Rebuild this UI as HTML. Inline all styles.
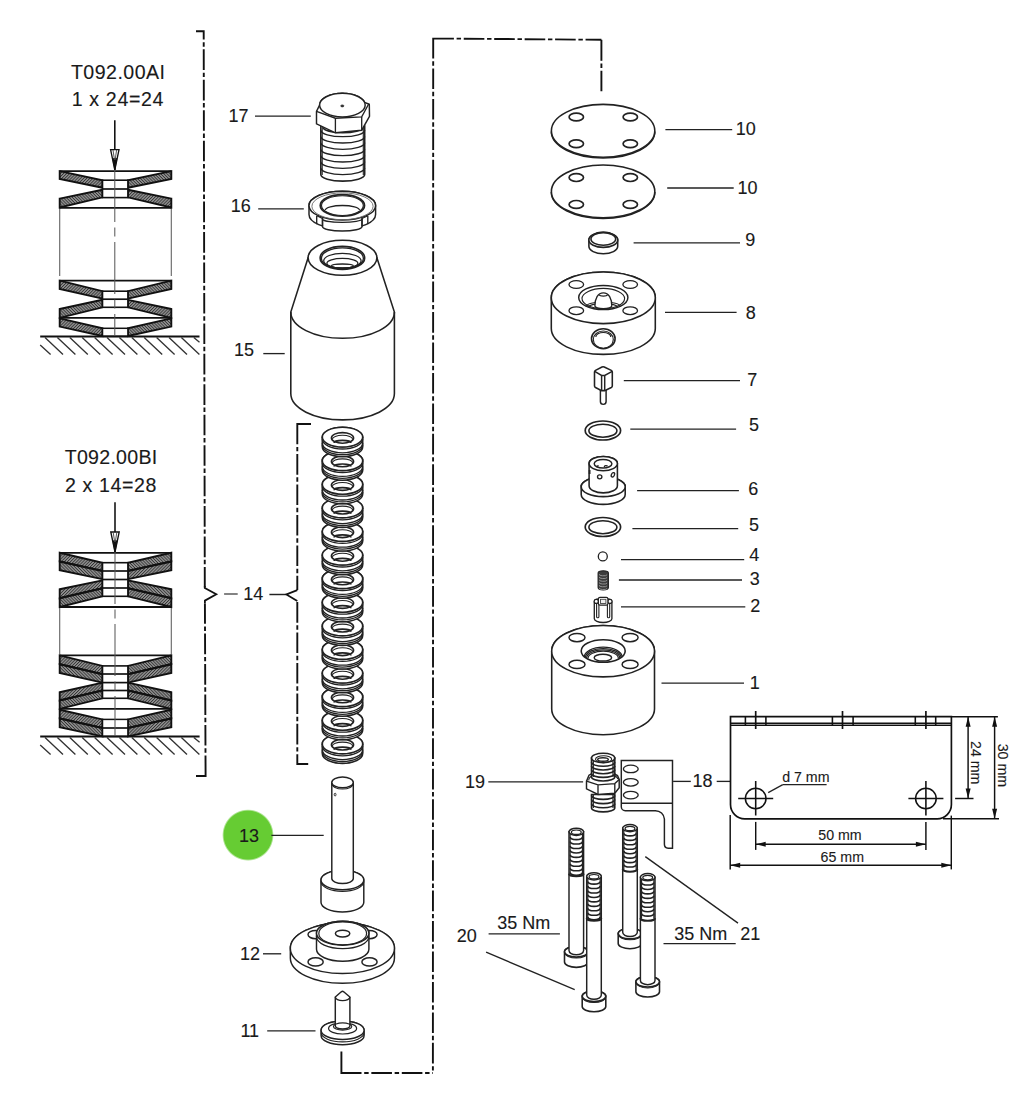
<!DOCTYPE html>
<html><head><meta charset="utf-8"><title>Exploded view</title>
<style>
html,body{margin:0;padding:0;background:#fff;}
body{width:1027px;height:1102px;overflow:hidden;}
svg{display:block;font-family:"Liberation Sans",sans-serif;}
svg text{fill:#1a1a1a;stroke:#1a1a1a;stroke-width:0.12px;}
</style></head>
<body>
<svg width="1027" height="1102" viewBox="0 0 1027 1102">
<rect width="1027" height="1102" fill="#fff"/>
<defs><pattern id="hat" patternUnits="userSpaceOnUse" width="2.2" height="2.2" patternTransform="rotate(-45)"><rect width="2.2" height="2.2" fill="#929292"/><rect width="2.2" height="0.85" fill="#333"/></pattern><pattern id="hatb" patternUnits="userSpaceOnUse" width="2.2" height="2.2" patternTransform="rotate(45)"><rect width="2.2" height="2.2" fill="#929292"/><rect width="2.2" height="0.85" fill="#333"/></pattern></defs>
<text x="118.2" y="79.4" font-size="19.6" text-anchor="middle" letter-spacing="0.45">T092.00AI</text>
<text x="117.9" y="106.3" font-size="19.6" text-anchor="middle" letter-spacing="0.65">1 x 24=24</text>
<line x1="114.8" y1="120.3" x2="114.8" y2="170" stroke="#111" stroke-width="1.57" />
<path d="M110.6,149.7 L114.8,169.8 L119,149.7 Z" fill="#fff" stroke="#111" stroke-width="1.34" />
<path d="M112.6,158.5 L117,158.5 L114.8,169.6 Z" fill="#111" stroke="#111" stroke-width="0.67" />
<path d="M113,150 L114.5,160 M116.6,150 L115.1,160" fill="none" stroke="#444" stroke-width="0.9" />
<line x1="59.7" y1="207.8" x2="59.7" y2="276" stroke="#666" stroke-width="1.12" />
<line x1="171.3" y1="207.8" x2="171.3" y2="276" stroke="#666" stroke-width="1.12" />
<path d="M59.7,171.1 L102.5,180.2 L102.5,187.8 L59.7,179 Z" fill="url(#hat)" stroke="#111" stroke-width="1.9" />
<path d="M171.3,171.1 L127.9,180.2 L127.9,187.8 L171.3,179 Z" fill="url(#hatb)" stroke="#111" stroke-width="1.9" />
<path d="M59.7,198.6 L102.5,189.7 L102.5,197.3 L59.7,207.5 Z" fill="url(#hatb)" stroke="#111" stroke-width="1.9" />
<path d="M171.3,198.6 L127.9,189.7 L127.9,197.3 L171.3,207.5 Z" fill="url(#hat)" stroke="#111" stroke-width="1.9" />
<rect x="102.5" y="180.2" width="25.4" height="17.4" fill="#fff" stroke="#111" stroke-width="1.6"/>
<line x1="102.5" y1="189" x2="127.9" y2="189" stroke="#111" stroke-width="1.68" />
<line x1="59.7" y1="171.1" x2="171.3" y2="171.1" stroke="#111" stroke-width="1.79" />
<line x1="59.7" y1="207.8" x2="171.3" y2="207.8" stroke="#111" stroke-width="1.79" />
<path d="M59.7,280.7 L102.5,291.2 L102.5,298.6 L59.7,288.9 Z" fill="url(#hat)" stroke="#111" stroke-width="1.9" />
<path d="M171.3,280.7 L127.9,291.2 L127.9,298.6 L171.3,288.9 Z" fill="url(#hatb)" stroke="#111" stroke-width="1.9" />
<path d="M59.7,309 L102.5,299.8 L102.5,307.3 L59.7,317.8 Z" fill="url(#hatb)" stroke="#111" stroke-width="1.9" />
<path d="M171.3,309 L127.9,299.8 L127.9,307.3 L171.3,317.8 Z" fill="url(#hat)" stroke="#111" stroke-width="1.9" />
<path d="M59.7,318.4 L102.5,328.3 L102.5,336 L59.7,326.6 Z" fill="url(#hat)" stroke="#111" stroke-width="1.9" />
<path d="M171.3,318.4 L127.9,328.3 L127.9,336 L171.3,326.6 Z" fill="url(#hatb)" stroke="#111" stroke-width="1.9" />
<rect x="102.5" y="291.2" width="25.4" height="16.1" fill="#fff" stroke="#111" stroke-width="1.6"/>
<line x1="102.5" y1="299.2" x2="127.9" y2="299.2" stroke="#111" stroke-width="1.68" />
<line x1="59.7" y1="280.7" x2="171.3" y2="280.7" stroke="#111" stroke-width="1.79" />
<line x1="59.7" y1="317.8" x2="171.3" y2="317.8" stroke="#111" stroke-width="1.79" />
<rect x="102.5" y="328.3" width="25.4" height="8" fill="#fff" stroke="#111" stroke-width="1.5"/>
<line x1="40.2" y1="336.6" x2="199.5" y2="336.6" stroke="#111" stroke-width="2.02" />
<path d="M40.2,345.1 L50.6,354.6 M45,337.5 L63,354.6 M57.4,337.5 L75.4,354.6 M69.8,337.5 L87.8,354.6 M82.2,337.5 L100.2,354.6 M94.6,337.5 L112.6,354.6 M107,337.5 L125,354.6 M119.4,337.5 L137.4,354.6 M131.8,337.5 L149.8,354.6 M144.2,337.5 L162.2,354.6 M156.6,337.5 L174.6,354.6 M169,337.5 L187,354.6 M181.4,337.5 L199.4,354.6 M193.8,337.5 L199.5,342.3" fill="none" stroke="#333" stroke-width="1.34" />
<line x1="114.8" y1="170" x2="114.8" y2="336" stroke="#555" stroke-width="1.01" stroke-dasharray="52 5.5 9 5.5"/>
<text x="111.1" y="463.7" font-size="19.6" text-anchor="middle" letter-spacing="0.25">T092.00BI</text>
<text x="111.1" y="491.7" font-size="19.6" text-anchor="middle" letter-spacing="0.6">2 x 14=28</text>
<line x1="115" y1="502.2" x2="115" y2="552" stroke="#111" stroke-width="1.57" />
<path d="M110.8,532 L115,552 L119.2,532 Z" fill="#fff" stroke="#111" stroke-width="1.34" />
<path d="M112.8,540.8 L117.2,540.8 L115,551.8 Z" fill="#111" stroke="#111" stroke-width="0.67" />
<path d="M113.2,532.3 L114.7,542 M116.8,532.3 L115.3,542" fill="none" stroke="#444" stroke-width="0.9" />
<line x1="59.7" y1="607" x2="59.7" y2="654.5" stroke="#666" stroke-width="1.12" />
<line x1="171.3" y1="607" x2="171.3" y2="654.5" stroke="#666" stroke-width="1.12" />
<path d="M59.7,552.8 L102.5,562.7 L102.5,571 L59.7,561.5 Z" fill="url(#hat)" stroke="#111" stroke-width="1.9" />
<path d="M59.7,561.5 L102.5,571 L102.5,579.2 L59.7,570.3 Z" fill="url(#hatb)" stroke="#111" stroke-width="1.9" />
<path d="M171.3,552.8 L127.9,562.7 L127.9,571 L171.3,561.5 Z" fill="url(#hatb)" stroke="#111" stroke-width="1.9" />
<path d="M171.3,561.5 L127.9,571 L127.9,579.2 L171.3,570.3 Z" fill="url(#hat)" stroke="#111" stroke-width="1.9" />
<path d="M59.7,589.3 L102.5,580.4 L102.5,588.3 L59.7,598.2 Z" fill="url(#hat)" stroke="#111" stroke-width="1.9" />
<path d="M59.7,598.2 L102.5,588.3 L102.5,596.3 L59.7,607 Z" fill="url(#hatb)" stroke="#111" stroke-width="1.9" />
<path d="M171.3,589.3 L127.9,580.4 L127.9,588.3 L171.3,598.2 Z" fill="url(#hatb)" stroke="#111" stroke-width="1.9" />
<path d="M171.3,598.2 L127.9,588.3 L127.9,596.3 L171.3,607 Z" fill="url(#hat)" stroke="#111" stroke-width="1.9" />
<line x1="59.7" y1="561.5" x2="102.5" y2="571" stroke="#111" stroke-width="1.57" />
<line x1="171.3" y1="561.5" x2="127.9" y2="571" stroke="#111" stroke-width="1.57" />
<line x1="59.7" y1="598.2" x2="102.5" y2="588.3" stroke="#111" stroke-width="1.57" />
<line x1="171.3" y1="598.2" x2="127.9" y2="588.3" stroke="#111" stroke-width="1.57" />
<rect x="102.5" y="562.7" width="25.4" height="33.6" fill="#fff" stroke="#111" stroke-width="1.6"/>
<line x1="102.5" y1="571" x2="127.9" y2="571" stroke="#111" stroke-width="1.68" />
<line x1="102.5" y1="579.5" x2="127.9" y2="579.5" stroke="#111" stroke-width="1.68" />
<line x1="102.5" y1="588" x2="127.9" y2="588" stroke="#111" stroke-width="1.68" />
<line x1="59.7" y1="552.8" x2="171.3" y2="552.8" stroke="#111" stroke-width="1.79" />
<line x1="59.7" y1="607" x2="171.3" y2="607" stroke="#111" stroke-width="1.79" />
<path d="M59.7,655.4 L102.5,665.9 L102.5,674.2 L59.7,664.2 Z" fill="url(#hat)" stroke="#111" stroke-width="1.9" />
<path d="M59.7,664.2 L102.5,674.2 L102.5,682.6 L59.7,672.9 Z" fill="url(#hatb)" stroke="#111" stroke-width="1.9" />
<path d="M171.3,655.4 L127.9,665.9 L127.9,674.2 L171.3,664.2 Z" fill="url(#hatb)" stroke="#111" stroke-width="1.9" />
<path d="M171.3,664.2 L127.9,674.2 L127.9,682.6 L171.3,672.9 Z" fill="url(#hat)" stroke="#111" stroke-width="1.9" />
<path d="M59.7,692.2 L102.5,682.6 L102.5,690.5 L59.7,700.5 Z" fill="url(#hat)" stroke="#111" stroke-width="1.9" />
<path d="M59.7,700.5 L102.5,690.5 L102.5,698.3 L59.7,708.9 Z" fill="url(#hatb)" stroke="#111" stroke-width="1.9" />
<path d="M171.3,692.2 L127.9,682.6 L127.9,690.5 L171.3,700.5 Z" fill="url(#hatb)" stroke="#111" stroke-width="1.9" />
<path d="M171.3,700.5 L127.9,690.5 L127.9,698.3 L171.3,708.9 Z" fill="url(#hat)" stroke="#111" stroke-width="1.9" />
<path d="M59.7,709.7 L102.5,719.4 L102.5,728 L59.7,718.5 Z" fill="url(#hat)" stroke="#111" stroke-width="1.9" />
<path d="M59.7,718.5 L102.5,728 L102.5,736.4 L59.7,727.3 Z" fill="url(#hatb)" stroke="#111" stroke-width="1.9" />
<path d="M171.3,709.7 L127.9,719.4 L127.9,728 L171.3,718.5 Z" fill="url(#hatb)" stroke="#111" stroke-width="1.9" />
<path d="M171.3,718.5 L127.9,728 L127.9,736.4 L171.3,727.3 Z" fill="url(#hat)" stroke="#111" stroke-width="1.9" />
<line x1="59.7" y1="664.2" x2="102.5" y2="674.2" stroke="#111" stroke-width="1.57" />
<line x1="171.3" y1="664.2" x2="127.9" y2="674.2" stroke="#111" stroke-width="1.57" />
<line x1="59.7" y1="700.5" x2="102.5" y2="690.5" stroke="#111" stroke-width="1.57" />
<line x1="171.3" y1="700.5" x2="127.9" y2="690.5" stroke="#111" stroke-width="1.57" />
<line x1="59.7" y1="718.5" x2="102.5" y2="728" stroke="#111" stroke-width="1.57" />
<line x1="171.3" y1="718.5" x2="127.9" y2="728" stroke="#111" stroke-width="1.57" />
<rect x="102.5" y="665.9" width="25.4" height="32.4" fill="#fff" stroke="#111" stroke-width="1.6"/>
<line x1="102.5" y1="674" x2="127.9" y2="674" stroke="#111" stroke-width="1.68" />
<line x1="102.5" y1="682.6" x2="127.9" y2="682.6" stroke="#111" stroke-width="1.68" />
<line x1="102.5" y1="690.5" x2="127.9" y2="690.5" stroke="#111" stroke-width="1.68" />
<line x1="59.7" y1="655.4" x2="171.3" y2="655.4" stroke="#111" stroke-width="1.79" />
<line x1="59.7" y1="708.9" x2="171.3" y2="708.9" stroke="#111" stroke-width="1.79" />
<rect x="102.5" y="719.4" width="25.4" height="17" fill="#fff" stroke="#111" stroke-width="1.5"/>
<line x1="102.5" y1="728" x2="127.9" y2="728" stroke="#111" stroke-width="1.68" />
<line x1="40.2" y1="736.5" x2="199.6" y2="736.5" stroke="#111" stroke-width="2.02" />
<path d="M40.2,745 L50.6,754.5 M45,737.4 L63,754.5 M57.4,737.4 L75.4,754.5 M69.8,737.4 L87.8,754.5 M82.2,737.4 L100.2,754.5 M94.6,737.4 L112.6,754.5 M107,737.4 L125,754.5 M119.4,737.4 L137.4,754.5 M131.8,737.4 L149.8,754.5 M144.2,737.4 L162.2,754.5 M156.6,737.4 L174.6,754.5 M169,737.4 L187,754.5 M181.4,737.4 L199.4,754.5 M193.8,737.4 L199.6,742.3" fill="none" stroke="#333" stroke-width="1.34" />
<line x1="115" y1="552" x2="115" y2="736" stroke="#555" stroke-width="1.01" stroke-dasharray="52 5.5 9 5.5"/>
<path d="M196,31.2 L203.7,31.2 L204.8,588" fill="none" stroke="#111" stroke-width="1.9" stroke-dasharray="20.6 2.7 4.45 2.7" stroke-dashoffset="4.6" stroke-linecap="butt" stroke-linejoin="miter"/>
<path d="M204.8,586 L204.8,588 L216.3,594.3 L204.9,600.6 L204.9,603" fill="none" stroke="#111" stroke-width="1.79" stroke-linejoin="miter"/>
<path d="M196,776 L205.6,776 L205.5,755.4" fill="none" stroke="#111" stroke-width="1.9" stroke-linecap="butt" stroke-linejoin="miter"/>
<path d="M205.5,755.4 L204.9,600.6" fill="none" stroke="#111" stroke-width="1.9" stroke-dasharray="20.6 2.7 4.45 2.7" stroke-dashoffset="20.6" stroke-linecap="butt" stroke-linejoin="miter"/>
<line x1="224.1" y1="594" x2="237.7" y2="594" stroke="#555" stroke-width="1.46" />
<text x="243.2" y="599.8" font-size="18" text-anchor="start" >14</text>
<line x1="269.4" y1="594.5" x2="286.4" y2="594.5" stroke="#222" stroke-width="1.46" />
<path d="M311,424 L297.3,424 L297.3,444.2" fill="none" stroke="#111" stroke-width="1.9" stroke-linecap="butt" stroke-linejoin="miter"/>
<path d="M297.3,444.2 L297.3,590.1" fill="none" stroke="#111" stroke-width="1.9" stroke-dasharray="20.6 2.7 4.45 2.7" stroke-dashoffset="20.6" stroke-linecap="butt" stroke-linejoin="miter"/>
<path d="M297.3,590.1 L286.4,594.5 L297.3,601" fill="none" stroke="#111" stroke-width="1.79" stroke-linejoin="miter"/>
<path d="M308.2,764 L297.3,764 L297.3,601" fill="none" stroke="#111" stroke-width="1.9" stroke-dasharray="20.6 2.7 4.45 2.7" stroke-dashoffset="0" stroke-linecap="butt" stroke-linejoin="miter"/>
<path d="M320.8,126 L320.8,174.6 A21.95,6.5 0 0 0 364.7,174.6 L364.7,126 Z" fill="#fff" stroke="#222" stroke-width="1.57" />
<path d="M320.8,130.2 A21.95,6.5 0 0 0 364.7,130.2" fill="none" stroke="#222" stroke-width="1.34" />
<path d="M320.8,136.52 A21.95,6.5 0 0 0 364.7,136.52" fill="none" stroke="#222" stroke-width="1.34" />
<path d="M320.8,142.84 A21.95,6.5 0 0 0 364.7,142.84" fill="none" stroke="#222" stroke-width="1.34" />
<path d="M320.8,149.16 A21.95,6.5 0 0 0 364.7,149.16" fill="none" stroke="#222" stroke-width="1.34" />
<path d="M320.8,155.48 A21.95,6.5 0 0 0 364.7,155.48" fill="none" stroke="#222" stroke-width="1.34" />
<path d="M320.8,161.8 A21.95,6.5 0 0 0 364.7,161.8" fill="none" stroke="#222" stroke-width="1.34" />
<path d="M320.8,168.12 A21.95,6.5 0 0 0 364.7,168.12" fill="none" stroke="#222" stroke-width="1.34" />
<line x1="322.2" y1="127" x2="322.2" y2="175" stroke="#222" stroke-width="1.12" />
<line x1="363.3" y1="127" x2="363.3" y2="175" stroke="#222" stroke-width="1.12" />
<path d="M323.25,127.5 A19.5,5.2 0 0 0 362.25,127.5" fill="none" stroke="#222" stroke-width="1.79" />
<path d="M316.5,111.3 L316.5,123.8 L335.4,132.8 L361.7,130.2 L369.5,116.4 L369.3,104.2 L364.6,102.41 L364.16,101.58 L363.61,100.77 L362.94,99.98 L362.17,99.22 L361.29,98.49 L360.31,97.8 L359.24,97.14 L358.08,96.53 L356.83,95.96 L355.51,95.45 L354.12,94.98 L352.67,94.56 L351.16,94.21 L349.6,93.9 L348.01,93.66 L346.39,93.48 L344.75,93.36 L343.09,93.31 L341.43,93.31 L339.78,93.38 L338.14,93.51 L336.52,93.7 L334.94,93.95 L333.39,94.26 L331.89,94.63 L330.45,95.05 L329.07,95.53 L327.76,96.06 L326.52,96.63 L325.38,97.25 L324.32,97.91 L323.36,98.61 L322.5,99.35 L321.74,100.11 L321.09,100.9 L320.56,101.71 L320.14,102.54 L319.84,103.39 L319.66,104.24 L319.6,105.1 Z" fill="#fff" stroke="#222" stroke-width="1.46" />
<path d="M316.5,111.3 L335.4,118.2 L361.7,116.9 L368.8,103.8" fill="none" stroke="#222" stroke-width="1.34" />
<line x1="335.4" y1="118.2" x2="335.4" y2="132.8" stroke="#222" stroke-width="1.34" />
<line x1="361.7" y1="116.9" x2="361.7" y2="130.2" stroke="#222" stroke-width="1.34" />
<ellipse cx="342.4" cy="105.1" rx="22.8" ry="11.8" fill="#fff" stroke="#222" stroke-width="1.46" />
<ellipse cx="342.3" cy="105.9" rx="1.6" ry="1" fill="#333" stroke="#222" stroke-width="0.67" />
<line x1="255" y1="116.2" x2="310.8" y2="116.2" stroke="#222" stroke-width="1.34" />
<text x="228.5" y="121.8" font-size="18" text-anchor="start" >17</text>
<path d="M309,205.7 A33.3,14.4 0 0 1 375.6,205.7 L375.6,214.5 A33.3,14.4 0 0 1 309,214.5 Z" fill="#fff" stroke="#222" stroke-width="1.46" />
<path d="M322.5,217 L322.5,226.5 A19.75,4.6 0 0 0 362,226.5 L362,217 Z" fill="#fff" stroke="#222" stroke-width="1.46" />
<path d="M322.5,219 A19.75,3.3 0 0 0 362,219" fill="none" stroke="#222" stroke-width="1.23" />
<path d="M316.7,215.8 L316.7,224.2 M362,218.5 L362,226.6 M367.8,215.8 L367.8,224.2 M322.5,218.5 L322.5,226.6" fill="none" stroke="#222" stroke-width="1.34" />
<path d="M316.7,215.8 L322.5,218.6 M367.8,215.8 L362,218.6" fill="none" stroke="#222" stroke-width="1.12" />
<ellipse cx="342.3" cy="205.7" rx="33.3" ry="14.4" fill="#fff" stroke="#222" stroke-width="1.46" />
<ellipse cx="342.5" cy="206.3" rx="30.6" ry="13.4" fill="none" stroke="#666" stroke-width="0.9" />
<ellipse cx="342.4" cy="205.4" rx="22.1" ry="10.8" fill="#fff" stroke="#222" stroke-width="1.79" />
<ellipse cx="342.4" cy="205.6" rx="20.9" ry="9.9" fill="none" stroke="#222" stroke-width="1.12" />
<path d="M325.4,210 A17,4.5 0 0 1 359.4,210" fill="none" stroke="#222" stroke-width="1.34" />
<line x1="258.2" y1="208.9" x2="303.8" y2="208.9" stroke="#222" stroke-width="1.34" />
<text x="230.8" y="211.9" font-size="18" text-anchor="start" >16</text>
<path d="M290.8,312 L290.8,393.6 A51.8,26.3 0 0 0 394.4,393.6 L394.4,312 L376.9,257.8 L308.1,257.8 Z" fill="#fff" stroke="#222" stroke-width="1.57" />
<path d="M290.8,312 A51.8,26.3 0 0 0 394.4,312" fill="none" stroke="#222" stroke-width="1.57" />
<ellipse cx="342.5" cy="257.8" rx="34.4" ry="17.5" fill="#fff" stroke="#222" stroke-width="1.57" />
<ellipse cx="342.4" cy="257.9" rx="22.3" ry="11.55" fill="#fff" stroke="#222" stroke-width="1.57" />
<ellipse cx="342.4" cy="258.3" rx="21" ry="10.4" fill="none" stroke="#222" stroke-width="1.29" />
<ellipse cx="342.4" cy="260.85" rx="18.7" ry="7.55" fill="none" stroke="#222" stroke-width="1.29" />
<ellipse cx="342.4" cy="263.3" rx="15.5" ry="4.9" fill="none" stroke="#222" stroke-width="1.29" />
<ellipse cx="342.4" cy="265.95" rx="11" ry="1.95" fill="none" stroke="#222" stroke-width="1.29" />
<line x1="263.3" y1="353.6" x2="284.7" y2="353.6" stroke="#222" stroke-width="1.34" />
<text x="234" y="355.9" font-size="18" text-anchor="start" >15</text>
<path d="M322.3,743.9 A20.2,9.9 0 0 1 362.7,743.9 L362.7,753.5 A20.2,9.9 0 0 1 322.3,753.5 Z" fill="#fff" stroke="#222" stroke-width="1.57" />
<path d="M322.3,743.9 A20.2,9.9 0 0 0 362.7,743.9" fill="none" stroke="#222" stroke-width="1.34" />
<path d="M322.3,745.9 A20.2,9.9 0 0 0 362.7,745.9" fill="none" stroke="#222" stroke-width="1.34" />
<path d="M322.3,749.7 A20.2,9.9 0 0 0 362.7,749.7" fill="none" stroke="#222" stroke-width="1.34" />
<path d="M322.3,751.6 A20.2,9.9 0 0 0 362.7,751.6" fill="none" stroke="#222" stroke-width="1.34" />
<ellipse cx="342.5" cy="743.9" rx="20.2" ry="9.9" fill="#fff" stroke="#222" stroke-width="1.57" />
<ellipse cx="342.5" cy="744.7" rx="11.1" ry="5.3" fill="#fff" stroke="#222" stroke-width="1.57" />
<path d="M332.3,746.2 A10.2,4.1 0 0 1 352.7,746.2" fill="none" stroke="#222" stroke-width="1.12" />
<path d="M334.1,749.8 A8.4,2.6 0 0 1 350.9,749.8" fill="none" stroke="#222" stroke-width="1.68" />
<path d="M322.3,720.3 A20.2,9.9 0 0 1 362.7,720.3 L362.7,729.9 A20.2,9.9 0 0 1 322.3,729.9 Z" fill="#fff" stroke="#222" stroke-width="1.57" />
<path d="M322.3,720.3 A20.2,9.9 0 0 0 362.7,720.3" fill="none" stroke="#222" stroke-width="1.34" />
<path d="M322.3,722.3 A20.2,9.9 0 0 0 362.7,722.3" fill="none" stroke="#222" stroke-width="1.34" />
<path d="M322.3,726.1 A20.2,9.9 0 0 0 362.7,726.1" fill="none" stroke="#222" stroke-width="1.34" />
<path d="M322.3,728 A20.2,9.9 0 0 0 362.7,728" fill="none" stroke="#222" stroke-width="1.34" />
<ellipse cx="342.5" cy="720.3" rx="20.2" ry="9.9" fill="#fff" stroke="#222" stroke-width="1.57" />
<ellipse cx="342.5" cy="721.1" rx="11.1" ry="5.3" fill="#fff" stroke="#222" stroke-width="1.57" />
<path d="M332.3,722.6 A10.2,4.1 0 0 1 352.7,722.6" fill="none" stroke="#222" stroke-width="1.12" />
<path d="M334.1,726.2 A8.4,2.6 0 0 1 350.9,726.2" fill="none" stroke="#222" stroke-width="1.68" />
<path d="M322.3,696.7 A20.2,9.9 0 0 1 362.7,696.7 L362.7,706.3 A20.2,9.9 0 0 1 322.3,706.3 Z" fill="#fff" stroke="#222" stroke-width="1.57" />
<path d="M322.3,696.7 A20.2,9.9 0 0 0 362.7,696.7" fill="none" stroke="#222" stroke-width="1.34" />
<path d="M322.3,698.7 A20.2,9.9 0 0 0 362.7,698.7" fill="none" stroke="#222" stroke-width="1.34" />
<path d="M322.3,702.5 A20.2,9.9 0 0 0 362.7,702.5" fill="none" stroke="#222" stroke-width="1.34" />
<path d="M322.3,704.4 A20.2,9.9 0 0 0 362.7,704.4" fill="none" stroke="#222" stroke-width="1.34" />
<ellipse cx="342.5" cy="696.7" rx="20.2" ry="9.9" fill="#fff" stroke="#222" stroke-width="1.57" />
<ellipse cx="342.5" cy="697.5" rx="11.1" ry="5.3" fill="#fff" stroke="#222" stroke-width="1.57" />
<path d="M332.3,699 A10.2,4.1 0 0 1 352.7,699" fill="none" stroke="#222" stroke-width="1.12" />
<path d="M334.1,702.6 A8.4,2.6 0 0 1 350.9,702.6" fill="none" stroke="#222" stroke-width="1.68" />
<path d="M322.3,673.1 A20.2,9.9 0 0 1 362.7,673.1 L362.7,682.7 A20.2,9.9 0 0 1 322.3,682.7 Z" fill="#fff" stroke="#222" stroke-width="1.57" />
<path d="M322.3,673.1 A20.2,9.9 0 0 0 362.7,673.1" fill="none" stroke="#222" stroke-width="1.34" />
<path d="M322.3,675.1 A20.2,9.9 0 0 0 362.7,675.1" fill="none" stroke="#222" stroke-width="1.34" />
<path d="M322.3,678.9 A20.2,9.9 0 0 0 362.7,678.9" fill="none" stroke="#222" stroke-width="1.34" />
<path d="M322.3,680.8 A20.2,9.9 0 0 0 362.7,680.8" fill="none" stroke="#222" stroke-width="1.34" />
<ellipse cx="342.5" cy="673.1" rx="20.2" ry="9.9" fill="#fff" stroke="#222" stroke-width="1.57" />
<ellipse cx="342.5" cy="673.9" rx="11.1" ry="5.3" fill="#fff" stroke="#222" stroke-width="1.57" />
<path d="M332.3,675.4 A10.2,4.1 0 0 1 352.7,675.4" fill="none" stroke="#222" stroke-width="1.12" />
<path d="M334.1,679 A8.4,2.6 0 0 1 350.9,679" fill="none" stroke="#222" stroke-width="1.68" />
<path d="M322.3,649.5 A20.2,9.9 0 0 1 362.7,649.5 L362.7,659.1 A20.2,9.9 0 0 1 322.3,659.1 Z" fill="#fff" stroke="#222" stroke-width="1.57" />
<path d="M322.3,649.5 A20.2,9.9 0 0 0 362.7,649.5" fill="none" stroke="#222" stroke-width="1.34" />
<path d="M322.3,651.5 A20.2,9.9 0 0 0 362.7,651.5" fill="none" stroke="#222" stroke-width="1.34" />
<path d="M322.3,655.3 A20.2,9.9 0 0 0 362.7,655.3" fill="none" stroke="#222" stroke-width="1.34" />
<path d="M322.3,657.2 A20.2,9.9 0 0 0 362.7,657.2" fill="none" stroke="#222" stroke-width="1.34" />
<ellipse cx="342.5" cy="649.5" rx="20.2" ry="9.9" fill="#fff" stroke="#222" stroke-width="1.57" />
<ellipse cx="342.5" cy="650.3" rx="11.1" ry="5.3" fill="#fff" stroke="#222" stroke-width="1.57" />
<path d="M332.3,651.8 A10.2,4.1 0 0 1 352.7,651.8" fill="none" stroke="#222" stroke-width="1.12" />
<path d="M334.1,655.4 A8.4,2.6 0 0 1 350.9,655.4" fill="none" stroke="#222" stroke-width="1.68" />
<path d="M322.3,625.9 A20.2,9.9 0 0 1 362.7,625.9 L362.7,635.5 A20.2,9.9 0 0 1 322.3,635.5 Z" fill="#fff" stroke="#222" stroke-width="1.57" />
<path d="M322.3,625.9 A20.2,9.9 0 0 0 362.7,625.9" fill="none" stroke="#222" stroke-width="1.34" />
<path d="M322.3,627.9 A20.2,9.9 0 0 0 362.7,627.9" fill="none" stroke="#222" stroke-width="1.34" />
<path d="M322.3,631.7 A20.2,9.9 0 0 0 362.7,631.7" fill="none" stroke="#222" stroke-width="1.34" />
<path d="M322.3,633.6 A20.2,9.9 0 0 0 362.7,633.6" fill="none" stroke="#222" stroke-width="1.34" />
<ellipse cx="342.5" cy="625.9" rx="20.2" ry="9.9" fill="#fff" stroke="#222" stroke-width="1.57" />
<ellipse cx="342.5" cy="626.7" rx="11.1" ry="5.3" fill="#fff" stroke="#222" stroke-width="1.57" />
<path d="M332.3,628.2 A10.2,4.1 0 0 1 352.7,628.2" fill="none" stroke="#222" stroke-width="1.12" />
<path d="M334.1,631.8 A8.4,2.6 0 0 1 350.9,631.8" fill="none" stroke="#222" stroke-width="1.68" />
<path d="M322.3,602.3 A20.2,9.9 0 0 1 362.7,602.3 L362.7,611.9 A20.2,9.9 0 0 1 322.3,611.9 Z" fill="#fff" stroke="#222" stroke-width="1.57" />
<path d="M322.3,602.3 A20.2,9.9 0 0 0 362.7,602.3" fill="none" stroke="#222" stroke-width="1.34" />
<path d="M322.3,604.3 A20.2,9.9 0 0 0 362.7,604.3" fill="none" stroke="#222" stroke-width="1.34" />
<path d="M322.3,608.1 A20.2,9.9 0 0 0 362.7,608.1" fill="none" stroke="#222" stroke-width="1.34" />
<path d="M322.3,610 A20.2,9.9 0 0 0 362.7,610" fill="none" stroke="#222" stroke-width="1.34" />
<ellipse cx="342.5" cy="602.3" rx="20.2" ry="9.9" fill="#fff" stroke="#222" stroke-width="1.57" />
<ellipse cx="342.5" cy="603.1" rx="11.1" ry="5.3" fill="#fff" stroke="#222" stroke-width="1.57" />
<path d="M332.3,604.6 A10.2,4.1 0 0 1 352.7,604.6" fill="none" stroke="#222" stroke-width="1.12" />
<path d="M334.1,608.2 A8.4,2.6 0 0 1 350.9,608.2" fill="none" stroke="#222" stroke-width="1.68" />
<path d="M322.3,578.7 A20.2,9.9 0 0 1 362.7,578.7 L362.7,588.3 A20.2,9.9 0 0 1 322.3,588.3 Z" fill="#fff" stroke="#222" stroke-width="1.57" />
<path d="M322.3,578.7 A20.2,9.9 0 0 0 362.7,578.7" fill="none" stroke="#222" stroke-width="1.34" />
<path d="M322.3,580.7 A20.2,9.9 0 0 0 362.7,580.7" fill="none" stroke="#222" stroke-width="1.34" />
<path d="M322.3,584.5 A20.2,9.9 0 0 0 362.7,584.5" fill="none" stroke="#222" stroke-width="1.34" />
<path d="M322.3,586.4 A20.2,9.9 0 0 0 362.7,586.4" fill="none" stroke="#222" stroke-width="1.34" />
<ellipse cx="342.5" cy="578.7" rx="20.2" ry="9.9" fill="#fff" stroke="#222" stroke-width="1.57" />
<ellipse cx="342.5" cy="579.5" rx="11.1" ry="5.3" fill="#fff" stroke="#222" stroke-width="1.57" />
<path d="M332.3,581 A10.2,4.1 0 0 1 352.7,581" fill="none" stroke="#222" stroke-width="1.12" />
<path d="M334.1,584.6 A8.4,2.6 0 0 1 350.9,584.6" fill="none" stroke="#222" stroke-width="1.68" />
<path d="M322.3,555.1 A20.2,9.9 0 0 1 362.7,555.1 L362.7,564.7 A20.2,9.9 0 0 1 322.3,564.7 Z" fill="#fff" stroke="#222" stroke-width="1.57" />
<path d="M322.3,555.1 A20.2,9.9 0 0 0 362.7,555.1" fill="none" stroke="#222" stroke-width="1.34" />
<path d="M322.3,557.1 A20.2,9.9 0 0 0 362.7,557.1" fill="none" stroke="#222" stroke-width="1.34" />
<path d="M322.3,560.9 A20.2,9.9 0 0 0 362.7,560.9" fill="none" stroke="#222" stroke-width="1.34" />
<path d="M322.3,562.8 A20.2,9.9 0 0 0 362.7,562.8" fill="none" stroke="#222" stroke-width="1.34" />
<ellipse cx="342.5" cy="555.1" rx="20.2" ry="9.9" fill="#fff" stroke="#222" stroke-width="1.57" />
<ellipse cx="342.5" cy="555.9" rx="11.1" ry="5.3" fill="#fff" stroke="#222" stroke-width="1.57" />
<path d="M332.3,557.4 A10.2,4.1 0 0 1 352.7,557.4" fill="none" stroke="#222" stroke-width="1.12" />
<path d="M334.1,561 A8.4,2.6 0 0 1 350.9,561" fill="none" stroke="#222" stroke-width="1.68" />
<path d="M322.3,531.5 A20.2,9.9 0 0 1 362.7,531.5 L362.7,541.1 A20.2,9.9 0 0 1 322.3,541.1 Z" fill="#fff" stroke="#222" stroke-width="1.57" />
<path d="M322.3,531.5 A20.2,9.9 0 0 0 362.7,531.5" fill="none" stroke="#222" stroke-width="1.34" />
<path d="M322.3,533.5 A20.2,9.9 0 0 0 362.7,533.5" fill="none" stroke="#222" stroke-width="1.34" />
<path d="M322.3,537.3 A20.2,9.9 0 0 0 362.7,537.3" fill="none" stroke="#222" stroke-width="1.34" />
<path d="M322.3,539.2 A20.2,9.9 0 0 0 362.7,539.2" fill="none" stroke="#222" stroke-width="1.34" />
<ellipse cx="342.5" cy="531.5" rx="20.2" ry="9.9" fill="#fff" stroke="#222" stroke-width="1.57" />
<ellipse cx="342.5" cy="532.3" rx="11.1" ry="5.3" fill="#fff" stroke="#222" stroke-width="1.57" />
<path d="M332.3,533.8 A10.2,4.1 0 0 1 352.7,533.8" fill="none" stroke="#222" stroke-width="1.12" />
<path d="M334.1,537.4 A8.4,2.6 0 0 1 350.9,537.4" fill="none" stroke="#222" stroke-width="1.68" />
<path d="M322.3,507.9 A20.2,9.9 0 0 1 362.7,507.9 L362.7,517.5 A20.2,9.9 0 0 1 322.3,517.5 Z" fill="#fff" stroke="#222" stroke-width="1.57" />
<path d="M322.3,507.9 A20.2,9.9 0 0 0 362.7,507.9" fill="none" stroke="#222" stroke-width="1.34" />
<path d="M322.3,509.9 A20.2,9.9 0 0 0 362.7,509.9" fill="none" stroke="#222" stroke-width="1.34" />
<path d="M322.3,513.7 A20.2,9.9 0 0 0 362.7,513.7" fill="none" stroke="#222" stroke-width="1.34" />
<path d="M322.3,515.6 A20.2,9.9 0 0 0 362.7,515.6" fill="none" stroke="#222" stroke-width="1.34" />
<ellipse cx="342.5" cy="507.9" rx="20.2" ry="9.9" fill="#fff" stroke="#222" stroke-width="1.57" />
<ellipse cx="342.5" cy="508.7" rx="11.1" ry="5.3" fill="#fff" stroke="#222" stroke-width="1.57" />
<path d="M332.3,510.2 A10.2,4.1 0 0 1 352.7,510.2" fill="none" stroke="#222" stroke-width="1.12" />
<path d="M334.1,513.8 A8.4,2.6 0 0 1 350.9,513.8" fill="none" stroke="#222" stroke-width="1.68" />
<path d="M322.3,484.3 A20.2,9.9 0 0 1 362.7,484.3 L362.7,493.9 A20.2,9.9 0 0 1 322.3,493.9 Z" fill="#fff" stroke="#222" stroke-width="1.57" />
<path d="M322.3,484.3 A20.2,9.9 0 0 0 362.7,484.3" fill="none" stroke="#222" stroke-width="1.34" />
<path d="M322.3,486.3 A20.2,9.9 0 0 0 362.7,486.3" fill="none" stroke="#222" stroke-width="1.34" />
<path d="M322.3,490.1 A20.2,9.9 0 0 0 362.7,490.1" fill="none" stroke="#222" stroke-width="1.34" />
<path d="M322.3,492 A20.2,9.9 0 0 0 362.7,492" fill="none" stroke="#222" stroke-width="1.34" />
<ellipse cx="342.5" cy="484.3" rx="20.2" ry="9.9" fill="#fff" stroke="#222" stroke-width="1.57" />
<ellipse cx="342.5" cy="485.1" rx="11.1" ry="5.3" fill="#fff" stroke="#222" stroke-width="1.57" />
<path d="M332.3,486.6 A10.2,4.1 0 0 1 352.7,486.6" fill="none" stroke="#222" stroke-width="1.12" />
<path d="M334.1,490.2 A8.4,2.6 0 0 1 350.9,490.2" fill="none" stroke="#222" stroke-width="1.68" />
<path d="M322.3,460.7 A20.2,9.9 0 0 1 362.7,460.7 L362.7,470.3 A20.2,9.9 0 0 1 322.3,470.3 Z" fill="#fff" stroke="#222" stroke-width="1.57" />
<path d="M322.3,460.7 A20.2,9.9 0 0 0 362.7,460.7" fill="none" stroke="#222" stroke-width="1.34" />
<path d="M322.3,462.7 A20.2,9.9 0 0 0 362.7,462.7" fill="none" stroke="#222" stroke-width="1.34" />
<path d="M322.3,466.5 A20.2,9.9 0 0 0 362.7,466.5" fill="none" stroke="#222" stroke-width="1.34" />
<path d="M322.3,468.4 A20.2,9.9 0 0 0 362.7,468.4" fill="none" stroke="#222" stroke-width="1.34" />
<ellipse cx="342.5" cy="460.7" rx="20.2" ry="9.9" fill="#fff" stroke="#222" stroke-width="1.57" />
<ellipse cx="342.5" cy="461.5" rx="11.1" ry="5.3" fill="#fff" stroke="#222" stroke-width="1.57" />
<path d="M332.3,463 A10.2,4.1 0 0 1 352.7,463" fill="none" stroke="#222" stroke-width="1.12" />
<path d="M334.1,466.6 A8.4,2.6 0 0 1 350.9,466.6" fill="none" stroke="#222" stroke-width="1.68" />
<path d="M322.3,437.1 A20.2,9.9 0 0 1 362.7,437.1 L362.7,446.7 A20.2,9.9 0 0 1 322.3,446.7 Z" fill="#fff" stroke="#222" stroke-width="1.57" />
<path d="M322.3,437.1 A20.2,9.9 0 0 0 362.7,437.1" fill="none" stroke="#222" stroke-width="1.34" />
<path d="M322.3,439.1 A20.2,9.9 0 0 0 362.7,439.1" fill="none" stroke="#222" stroke-width="1.34" />
<path d="M322.3,442.9 A20.2,9.9 0 0 0 362.7,442.9" fill="none" stroke="#222" stroke-width="1.34" />
<path d="M322.3,444.8 A20.2,9.9 0 0 0 362.7,444.8" fill="none" stroke="#222" stroke-width="1.34" />
<ellipse cx="342.5" cy="437.1" rx="20.2" ry="9.9" fill="#fff" stroke="#222" stroke-width="1.57" />
<ellipse cx="342.5" cy="437.9" rx="11.1" ry="5.3" fill="#fff" stroke="#222" stroke-width="1.57" />
<path d="M332.3,439.4 A10.2,4.1 0 0 1 352.7,439.4" fill="none" stroke="#222" stroke-width="1.12" />
<path d="M334.1,443 A8.4,2.6 0 0 1 350.9,443" fill="none" stroke="#222" stroke-width="1.68" />
<path d="M321,880 A21.4,9.7 0 0 1 363.8,880 L363.8,902.3 A21.4,9.7 0 0 1 321,902.3 Z" fill="#fff" stroke="#222" stroke-width="1.46" />
<ellipse cx="342.4" cy="880" rx="21.4" ry="9.7" fill="#fff" stroke="#222" stroke-width="1.46" />
<path d="M321,881.6 A21.4,9.7 0 0 0 363.8,881.6" fill="none" stroke="#222" stroke-width="1.23" />
<path d="M331.8,782.4 L331.8,878.6 A10.75,5 0 0 0 353.3,878.6 L353.3,782.4 Z" fill="#fff" stroke="#222" stroke-width="1.46" />
<ellipse cx="342.55" cy="782.4" rx="10.75" ry="5.4" fill="#fff" stroke="#222" stroke-width="1.46" />
<path d="M331.8,783.6 A10.75,5.4 0 0 0 353.3,783.6" fill="none" stroke="#222" stroke-width="1.12" />
<ellipse cx="335.1" cy="794.6" rx="0.9" ry="1.4" fill="none" stroke="#222" stroke-width="0.9" />
<radialGradient id="gc" cx="248" cy="835.1" r="25.9" gradientUnits="userSpaceOnUse"><stop offset="0.925" stop-color="#66cc33"/><stop offset="1" stop-color="#66cc33" stop-opacity="0"/></radialGradient><circle cx="248" cy="835.1" r="25.9" fill="url(#gc)"/>
<line x1="271.4" y1="835.4" x2="323.7" y2="835.4" stroke="#222" stroke-width="1.34" />
<text x="239" y="841.7" font-size="18" text-anchor="start" >13</text>
<path d="M290.35,948.2 A52.05,25.3 0 0 1 394.45,948.2 L394.45,958 A52.05,25.3 0 0 1 290.35,958 Z" fill="#fff" stroke="#222" stroke-width="1.46" />
<ellipse cx="342.4" cy="948.2" rx="52.05" ry="25.3" fill="#fff" stroke="#222" stroke-width="1.46" />
<ellipse cx="315.6" cy="934.6" rx="7.6" ry="4.1" fill="#fff" stroke="#222" stroke-width="1.46" />
<ellipse cx="369.5" cy="934.6" rx="7.6" ry="4.1" fill="#fff" stroke="#222" stroke-width="1.46" />
<ellipse cx="315.6" cy="961.9" rx="7.6" ry="4.1" fill="#fff" stroke="#222" stroke-width="1.46" />
<ellipse cx="369.5" cy="961.9" rx="7.6" ry="4.1" fill="#fff" stroke="#222" stroke-width="1.46" />
<path d="M316.5,933.2 A26.2,12 0 0 1 368.9,933.2 L368.9,949.3 A26.2,12 0 0 1 316.5,949.3 Z" fill="#fff" stroke="#222" stroke-width="1.46" />
<ellipse cx="342.7" cy="933.2" rx="26.2" ry="12" fill="#fff" stroke="#222" stroke-width="1.46" />
<ellipse cx="342.7" cy="933.4" rx="23.9" ry="11.5" fill="none" stroke="#222" stroke-width="1.23" />
<path d="M316.5,936.6 A26.2,12 0 0 0 368.9,936.6" fill="none" stroke="#222" stroke-width="1.34" />
<ellipse cx="342.6" cy="933.6" rx="7.2" ry="3.4" fill="#fff" stroke="#222" stroke-width="1.46" />
<line x1="263" y1="953.8" x2="281.2" y2="953.8" stroke="#222" stroke-width="1.34" />
<text x="240" y="959.9" font-size="18" text-anchor="start" >12</text>
<path d="M321.1,1030.2 A21.5,9.3 0 0 1 364.1,1030.2 L364.1,1035.4 A21.5,9.3 0 0 1 321.1,1035.4 Z" fill="#fff" stroke="#222" stroke-width="1.46" />
<path d="M321.1,1032.6 A21.5,9.3 0 0 0 364.1,1032.6" fill="none" stroke="#222" stroke-width="1.12" />
<ellipse cx="342.6" cy="1030.2" rx="21.5" ry="9.3" fill="#fff" stroke="#222" stroke-width="1.46" />
<ellipse cx="342.6" cy="1028.4" rx="14" ry="5.6" fill="none" stroke="#222" stroke-width="1.23" />
<path d="M335.3,997 L341.3,991.8 Q342.5,990.9 343.7,991.8 L349.9,997 L349.9,1026 A7.3,3 0 0 1 335.3,1026 Z" fill="#fff" stroke="#222" stroke-width="1.46" />
<path d="M335.3,997 A7.3,3.6 0 0 0 349.9,997" fill="none" stroke="#222" stroke-width="1.34" />
<ellipse cx="342.6" cy="1026.5" rx="9.2" ry="3.6" fill="none" stroke="#222" stroke-width="1.12" />
<line x1="267.2" y1="1030.9" x2="315.5" y2="1030.9" stroke="#222" stroke-width="1.34" />
<text x="240.4" y="1036.5" font-size="18" text-anchor="start" >11</text>
<path d="M341.4,1051.4 L341.4,1073 L361.5,1073" fill="none" stroke="#111" stroke-width="1.9" stroke-linecap="butt" stroke-linejoin="miter"/>
<path d="M361.5,1073 L432.9,1073" fill="none" stroke="#111" stroke-width="1.9" stroke-dasharray="20.6 2.7 4.45 2.7" stroke-dashoffset="20.6" stroke-linecap="butt" stroke-linejoin="miter"/>
<path d="M433.2,58.6 L432.9,1073" fill="none" stroke="#111" stroke-width="1.9" stroke-dasharray="20.6 2.7 4.45 2.7" stroke-dashoffset="20.6" stroke-linecap="butt" stroke-linejoin="miter"/>
<path d="M433.2,58.6 L433.2,38.6 L453.9,38.6" fill="none" stroke="#111" stroke-width="1.9" stroke-linecap="butt" stroke-linejoin="miter"/>
<path d="M453.9,38.6 L601.4,39.8" fill="none" stroke="#111" stroke-width="1.9" stroke-dasharray="20.6 2.7 4.45 2.7" stroke-dashoffset="20.6" stroke-linecap="butt" stroke-linejoin="miter"/>
<path d="M601.4,39.8 L601.4,60.8" fill="none" stroke="#111" stroke-width="1.9" stroke-linecap="butt" stroke-linejoin="miter"/>
<path d="M601.4,60.8 L601.4,91.3" fill="none" stroke="#111" stroke-width="1.9" stroke-dasharray="20.6 2.7 4.45 2.7" stroke-dashoffset="20.6" stroke-linecap="butt" stroke-linejoin="miter"/>
<path d="M551.4,131.5 A51.7,26.4 0 0 0 654.8,131.5" fill="none" stroke="#222" stroke-width="1.68" />
<ellipse cx="603.1" cy="130.8" rx="51.7" ry="26.4" fill="#fff" stroke="#222" stroke-width="1.57" />
<ellipse cx="576.3" cy="117" rx="7.2" ry="3.9" fill="#fff" stroke="#222" stroke-width="1.68" />
<ellipse cx="630.3" cy="117" rx="7.2" ry="3.9" fill="#fff" stroke="#222" stroke-width="1.68" />
<ellipse cx="576.3" cy="143.8" rx="7.2" ry="3.9" fill="#fff" stroke="#222" stroke-width="1.68" />
<ellipse cx="630.3" cy="143.8" rx="7.2" ry="3.9" fill="#fff" stroke="#222" stroke-width="1.68" />
<path d="M551.4,192.1 A51.7,26.4 0 0 0 654.8,192.1" fill="none" stroke="#222" stroke-width="1.68" />
<ellipse cx="603.1" cy="191.4" rx="51.7" ry="26.4" fill="#fff" stroke="#222" stroke-width="1.57" />
<ellipse cx="576.3" cy="177.6" rx="7.2" ry="3.9" fill="#fff" stroke="#222" stroke-width="1.68" />
<ellipse cx="630.3" cy="177.6" rx="7.2" ry="3.9" fill="#fff" stroke="#222" stroke-width="1.68" />
<ellipse cx="576.3" cy="204.4" rx="7.2" ry="3.9" fill="#fff" stroke="#222" stroke-width="1.68" />
<ellipse cx="630.3" cy="204.4" rx="7.2" ry="3.9" fill="#fff" stroke="#222" stroke-width="1.68" />
<line x1="665.4" y1="129.7" x2="732.2" y2="129.7" stroke="#222" stroke-width="1.34" />
<text x="735.8" y="135.3" font-size="18" text-anchor="start" >10</text>
<line x1="667.2" y1="188" x2="733.7" y2="188" stroke="#222" stroke-width="1.34" />
<text x="737.4" y="193.5" font-size="18" text-anchor="start" >10</text>
<path d="M588.9,239.9 A14.4,7.5 0 0 1 617.7,239.9 L617.7,246.3 A14.4,7.5 0 0 1 588.9,246.3 Z" fill="#fff" stroke="#222" stroke-width="1.57" />
<ellipse cx="603.3" cy="239.9" rx="14.4" ry="7.5" fill="#fff" stroke="#222" stroke-width="1.57" />
<ellipse cx="603.3" cy="239" rx="12.4" ry="6.2" fill="#fff" stroke="#222" stroke-width="1.46" />
<line x1="633.6" y1="242.8" x2="740" y2="242.8" stroke="#222" stroke-width="1.34" />
<text x="745.2" y="246.2" font-size="18" text-anchor="start" >9</text>
<path d="M551.3,297.8 A52,25.8 0 0 1 655.3,297.8 L655.3,328.6 A52,25.8 0 0 1 551.3,328.6 Z" fill="#fff" stroke="#222" stroke-width="1.57" />
<ellipse cx="603.3" cy="297.8" rx="52" ry="25.8" fill="#fff" stroke="#222" stroke-width="1.57" />
<ellipse cx="576.3" cy="284.5" rx="7.3" ry="3.9" fill="#fff" stroke="#222" stroke-width="1.34" />
<ellipse cx="630.2" cy="284.5" rx="7.3" ry="3.9" fill="#fff" stroke="#222" stroke-width="1.34" />
<ellipse cx="576.3" cy="310.7" rx="7.3" ry="3.9" fill="#fff" stroke="#222" stroke-width="1.34" />
<ellipse cx="630.2" cy="310.7" rx="7.3" ry="3.9" fill="#fff" stroke="#222" stroke-width="1.34" />
<ellipse cx="603.3" cy="297.5" rx="24.6" ry="12.1" fill="#fff" stroke="#222" stroke-width="1.46" />
<ellipse cx="603.3" cy="298.6" rx="21.3" ry="10.2" fill="none" stroke="#222" stroke-width="1.12" />
<path d="M586.3,306.5 A17,4.5 0 0 1 620.3,306.5" fill="none" stroke="#222" stroke-width="1.12" />
<path d="M588.4,307.5 A14.6,4 0 0 1 617.6,307.5" fill="none" stroke="#222" stroke-width="1.23" />
<path d="M594.9,306 C594.9,298.5 597.8,292.8 603.35,292.8 C608.9,292.8 611.8,298.5 611.8,306 A8.45,2.6 0 0 1 594.9,306 Z" fill="#fff" stroke="#222" stroke-width="1.34" />
<path d="M599.2,294.8 A4.2,1.6 0 0 0 607.5,294.8" fill="none" stroke="#222" stroke-width="1.12" />
<ellipse cx="603.3" cy="338.7" rx="11.8" ry="10" fill="#fff" stroke="#222" stroke-width="1.57" />
<ellipse cx="603.3" cy="339.6" rx="10" ry="8.6" fill="none" stroke="#222" stroke-width="1.12" />
<path d="M595.8,337 A7.5,4.5 0 0 1 610.8,337" fill="none" stroke="#222" stroke-width="1.12" />
<line x1="665" y1="312.3" x2="736.6" y2="312.3" stroke="#222" stroke-width="1.34" />
<text x="745.8" y="318.5" font-size="18" text-anchor="start" >8</text>
<path d="M600.4,389 L600.4,401.6 A2.85,2.8 0 0 0 606.1,401.6 L606.1,389 Z" fill="#fff" stroke="#222" stroke-width="1.46" />
<path d="M594.5,372 Q594.5,371 595.5,370.4 L602,367 Q603.1,366.5 604.2,367 L611.3,370.4 Q612.3,371 612.3,372 L612.3,386 Q612.3,387 611.3,387.5 L604.7,390.6 L601.6,390.6 L595.5,387.5 Q594.5,387 594.5,386 Z" fill="#fff" stroke="#222" stroke-width="1.57" />
<path d="M594.7,371.3 L601.6,375.4 L604.7,375.4 L612.2,371.3 M601.6,375.4 L601.6,390.4 M604.7,375.4 L604.7,390.4" fill="none" stroke="#222" stroke-width="1.46" />
<line x1="623.8" y1="380.6" x2="740" y2="380.6" stroke="#222" stroke-width="1.34" />
<text x="747.3" y="385.7" font-size="18" text-anchor="start" >7</text>
<ellipse cx="602.9" cy="430.5" rx="17.7" ry="9.5" fill="#fff" stroke="#222" stroke-width="1.68" />
<ellipse cx="602.9" cy="430.7" rx="14" ry="6.5" fill="none" stroke="#222" stroke-width="1.57" />
<ellipse cx="602.9" cy="527" rx="17.7" ry="9.5" fill="#fff" stroke="#222" stroke-width="1.68" />
<ellipse cx="602.9" cy="527.2" rx="14" ry="6.5" fill="none" stroke="#222" stroke-width="1.57" />
<line x1="630.3" y1="429.2" x2="736.1" y2="429.2" stroke="#222" stroke-width="1.34" />
<text x="749" y="430.7" font-size="18" text-anchor="start" >5</text>
<line x1="632.4" y1="528.6" x2="738.2" y2="528.6" stroke="#222" stroke-width="1.34" />
<text x="749" y="530.7" font-size="18" text-anchor="start" >5</text>
<path d="M581.2,486.7 A22,9.9 0 0 1 625.2,486.7 L625.2,494.5 A22,9.9 0 0 1 581.2,494.5 Z" fill="#fff" stroke="#222" stroke-width="1.57" />
<ellipse cx="603.2" cy="486.7" rx="22" ry="9.9" fill="#fff" stroke="#222" stroke-width="1.57" />
<path d="M589.1,463.6 A14.15,7.15 0 0 1 617.4,463.6 L617.4,485.7 A14.15,7.15 0 0 1 589.1,485.7 Z" fill="#fff" stroke="#222" stroke-width="1.57" />
<ellipse cx="603.25" cy="463.6" rx="14.15" ry="7.15" fill="#fff" stroke="#222" stroke-width="1.57" />
<ellipse cx="603.05" cy="463.7" rx="8.85" ry="4.3" fill="#fff" stroke="#222" stroke-width="1.46" />
<path d="M597,467.2 A1.6,1.6 0 0 1 598.6,465.6 M604.2,467 A1.9,1.9 0 0 1 607.5,466.3" fill="none" stroke="#222" stroke-width="1.34" />
<ellipse cx="599.7" cy="476.8" rx="2.2" ry="2" fill="none" stroke="#222" stroke-width="1.34" />
<ellipse cx="612.9" cy="474.8" rx="1.5" ry="2.3" fill="none" stroke="#222" stroke-width="1.34" transform="rotate(25 612.9 474.8)"/>
<line x1="589.6" y1="470" x2="589.6" y2="474" stroke="#222" stroke-width="1.79" />
<line x1="637.1" y1="490.7" x2="738.9" y2="490.7" stroke="#222" stroke-width="1.34" />
<text x="748.2" y="495.4" font-size="18" text-anchor="start" >6</text>
<circle cx="602.8" cy="556.4" r="4.5" fill="#fff" stroke="#222" stroke-width="1.3"/>
<line x1="621" y1="559.6" x2="744.2" y2="559.6" stroke="#222" stroke-width="1.34" />
<text x="749.2" y="560.7" font-size="18" text-anchor="start" >4</text>
<path d="M598.1,573 L598.1,587.6 A5.15,2.3 0 0 0 608.4,587.6 L608.4,573 A5.15,2.3 0 0 0 598.1,573 Z" fill="#3c3c3c" stroke="#222" stroke-width="1.12" />
<path d="M599.4,574.2 A3.9,1.3 0 0 0 607.1,574.8" fill="none" stroke="#9a9a9a" stroke-width="0.9" />
<path d="M599.4,576.95 A3.9,1.3 0 0 0 607.1,577.55" fill="none" stroke="#9a9a9a" stroke-width="0.9" />
<path d="M599.4,579.7 A3.9,1.3 0 0 0 607.1,580.3" fill="none" stroke="#9a9a9a" stroke-width="0.9" />
<path d="M599.4,582.45 A3.9,1.3 0 0 0 607.1,583.05" fill="none" stroke="#9a9a9a" stroke-width="0.9" />
<path d="M599.4,585.2 A3.9,1.3 0 0 0 607.1,585.8" fill="none" stroke="#9a9a9a" stroke-width="0.9" />
<path d="M599.4,587.95 A3.9,1.3 0 0 0 607.1,588.55" fill="none" stroke="#9a9a9a" stroke-width="0.9" />
<line x1="618.9" y1="580" x2="742" y2="580" stroke="#222" stroke-width="1.34" />
<text x="749.8" y="585.3" font-size="18" text-anchor="start" >3</text>
<path d="M594.3,601.5 L594.3,618.7 A8.8,3.8 0 0 0 611.9,618.7 L611.9,601.5 A8.8,3 0 0 0 594.3,601.5 Z" fill="#fff" stroke="#222" stroke-width="1.34" />
<rect x="596.6" y="601" width="2.3" height="16.8" rx="1.1" fill="#fff" stroke="#222" stroke-width="1.1"/>
<rect x="607.4" y="601" width="2.3" height="16.8" rx="1.1" fill="#fff" stroke="#222" stroke-width="1.1"/>
<ellipse cx="596.3" cy="601.4" rx="2.1" ry="2" fill="#fff" stroke="#222" stroke-width="1.12" />
<ellipse cx="609.9" cy="601.4" rx="2.1" ry="2" fill="#fff" stroke="#222" stroke-width="1.12" />
<rect x="598.4" y="597.3" width="9.5" height="7.8" rx="1.6" fill="#fff" stroke="#222" stroke-width="1.2"/>
<rect x="600.5" y="599.3" width="5.4" height="4.2" fill="#eee" stroke="#444" stroke-width="0.9"/>
<line x1="621" y1="606.8" x2="745.3" y2="606.8" stroke="#222" stroke-width="1.34" />
<text x="750.2" y="612.1" font-size="18" text-anchor="start" >2</text>
<path d="M551.7,651.2 A51.4,25.7 0 0 1 654.5,651.2 L654.5,709 A51.4,25.7 0 0 1 551.7,709 Z" fill="#fff" stroke="#222" stroke-width="1.57" />
<ellipse cx="603.1" cy="651.2" rx="51.4" ry="25.7" fill="#fff" stroke="#222" stroke-width="1.57" />
<ellipse cx="577" cy="637.6" rx="8" ry="4.1" fill="#fff" stroke="#222" stroke-width="1.46" />
<ellipse cx="630.1" cy="637.6" rx="8" ry="4.1" fill="#fff" stroke="#222" stroke-width="1.46" />
<ellipse cx="577" cy="664.4" rx="8" ry="4.1" fill="#fff" stroke="#222" stroke-width="1.46" />
<ellipse cx="630.1" cy="664.4" rx="8" ry="4.1" fill="#fff" stroke="#222" stroke-width="1.46" />
<ellipse cx="603.2" cy="651" rx="22" ry="11.25" fill="#fff" stroke="#222" stroke-width="1.57" />
<path d="M584.2,657.2 A19,10 0 0 1 622.2,657.2" fill="none" stroke="#222" stroke-width="1.23" />
<path d="M585.4,657.6 A17.8,9.1 0 0 1 621,657.6" fill="none" stroke="#222" stroke-width="1.23" />
<path d="M586.6,658 A16.6,8.2 0 0 1 619.8,658" fill="none" stroke="#222" stroke-width="1.23" />
<path d="M588,658.4 A15.2,7.2 0 0 1 618.4,658.4" fill="none" stroke="#222" stroke-width="1.23" />
<ellipse cx="602.9" cy="657.7" rx="8.7" ry="3.4" fill="#fff" stroke="#222" stroke-width="1.46" />
<line x1="661.5" y1="683.2" x2="744" y2="683.2" stroke="#222" stroke-width="1.34" />
<text x="749.8" y="689.3" font-size="18" text-anchor="start" >1</text>
<path d="M621.3,760.6 L672.5,760.6 L672.5,848.2 L668.2,848.2 A4,4 0 0 1 664.4,844.2 L664.4,819 A9,9 0 0 0 655.4,810.7 L625.3,810.7 A4,4 0 0 1 621.3,806.7 Z" fill="#fff" stroke="#222" stroke-width="1.46" />
<line x1="621.3" y1="803.2" x2="672.5" y2="803.2" stroke="#222" stroke-width="1.46" />
<ellipse cx="630.8" cy="768.9" rx="7.4" ry="3.75" fill="#fff" stroke="#222" stroke-width="1.34" />
<ellipse cx="630.8" cy="782.3" rx="7.4" ry="3.75" fill="#fff" stroke="#222" stroke-width="1.34" />
<ellipse cx="630.8" cy="795.1" rx="7.4" ry="3.75" fill="#fff" stroke="#222" stroke-width="1.34" />
<line x1="673.1" y1="781.4" x2="690.8" y2="781.4" stroke="#222" stroke-width="1.34" />
<text x="692.5" y="787.3" font-size="18" text-anchor="start" >18</text>
<line x1="716.7" y1="781.4" x2="730.2" y2="781.4" stroke="#222" stroke-width="1.34" />
<path d="M591.5,794.5 L591.5,807.9 A11.65,4 0 0 0 614.8,807.9 L614.8,794.5 Z" fill="#fff" stroke="#222" stroke-width="1.57" />
<path d="M591.5,795.4 A11.65,4 0 0 0 614.8,795.4" fill="none" stroke="#222" stroke-width="1.57" />
<path d="M591.5,799.6 A11.65,4 0 0 0 614.8,799.6" fill="none" stroke="#222" stroke-width="1.57" />
<path d="M591.5,803.8 A11.65,4 0 0 0 614.8,803.8" fill="none" stroke="#222" stroke-width="1.57" />
<line x1="593.3" y1="795" x2="593.3" y2="808" stroke="#222" stroke-width="1.23" />
<line x1="613" y1="795" x2="613" y2="808" stroke="#222" stroke-width="1.23" />
<path d="M586.5,781.2 L586.5,788.9 L598,794.5 L614.8,793.3 L619.2,787.7 L619.2,779.5 L617.5,775.5 L612,772.6 L603,771.6 L594,772.4 L589,775.2 Z" fill="#fff" stroke="#222" stroke-width="1.46" />
<path d="M586.5,781.2 L598,784.8 L614.8,783.6 L619.2,779.5 M598,784.8 L598,794.5 M614.8,783.6 L614.8,793.3" fill="none" stroke="#222" stroke-width="1.34" />
<path d="M588.8,780.5 A14.6,6.8 0 0 1 617.8,779" fill="none" stroke="#222" stroke-width="1.12" />
<path d="M591.5,758 L591.5,777 A11.65,4 0 0 0 614.8,777 L614.8,758 Z" fill="#fff" stroke="#222" stroke-width="1.57" />
<path d="M591.5,762.3 A11.65,4 0 0 0 614.8,762.3" fill="none" stroke="#222" stroke-width="1.57" />
<path d="M591.5,766 A11.65,4 0 0 0 614.8,766" fill="none" stroke="#222" stroke-width="1.57" />
<path d="M591.5,769.7 A11.65,4 0 0 0 614.8,769.7" fill="none" stroke="#222" stroke-width="1.57" />
<path d="M591.5,773.4 A11.65,4 0 0 0 614.8,773.4" fill="none" stroke="#222" stroke-width="1.57" />
<line x1="593.3" y1="759" x2="593.3" y2="777" stroke="#222" stroke-width="1.23" />
<line x1="613" y1="759" x2="613" y2="777" stroke="#222" stroke-width="1.23" />
<ellipse cx="603.15" cy="758" rx="11.65" ry="4.8" fill="#fff" stroke="#222" stroke-width="1.57" />
<ellipse cx="603.6" cy="759.2" rx="8.1" ry="3.4" fill="none" stroke="#222" stroke-width="1.12" />
<ellipse cx="603" cy="759.5" rx="5.3" ry="1.8" fill="#fff" stroke="#222" stroke-width="1.46" />
<line x1="488.3" y1="781.9" x2="583.1" y2="781.9" stroke="#222" stroke-width="1.34" />
<text x="465" y="788.2" font-size="18" text-anchor="start" >19</text>
<path d="M564.5,951.8 A11.8,5.3 0 0 1 588.1,951.8 L588.1,962.1 A11.8,5.3 0 0 1 564.5,962.1 Z" fill="#fff" stroke="#222" stroke-width="1.57" />
<ellipse cx="576.3" cy="951.8" rx="11.8" ry="5.3" fill="#fff" stroke="#222" stroke-width="1.57" />
<path d="M564.8,952.7 A11.5,5.3 0 0 0 587.8,952.7" fill="none" stroke="#222" stroke-width="1.01" />
<path d="M569,831.8 L569,950.5 A7.3,4.3 0 0 0 583.6,950.5 L583.6,831.8 Z" fill="#fff" stroke="#222" stroke-width="1.46" />
<path d="M570.2,837 A6.1,2.6 0 0 0 582.4,837" fill="none" stroke="#222" stroke-width="1.62" />
<path d="M570.2,841.45 A6.1,2.6 0 0 0 582.4,841.45" fill="none" stroke="#222" stroke-width="1.62" />
<path d="M570.2,845.9 A6.1,2.6 0 0 0 582.4,845.9" fill="none" stroke="#222" stroke-width="1.62" />
<path d="M570.2,850.35 A6.1,2.6 0 0 0 582.4,850.35" fill="none" stroke="#222" stroke-width="1.62" />
<path d="M570.2,854.8 A6.1,2.6 0 0 0 582.4,854.8" fill="none" stroke="#222" stroke-width="1.62" />
<path d="M570.2,859.25 A6.1,2.6 0 0 0 582.4,859.25" fill="none" stroke="#222" stroke-width="1.62" />
<path d="M570.2,863.7 A6.1,2.6 0 0 0 582.4,863.7" fill="none" stroke="#222" stroke-width="1.62" />
<path d="M570.2,868.15 A6.1,2.6 0 0 0 582.4,868.15" fill="none" stroke="#222" stroke-width="1.62" />
<path d="M570.2,872.6 A6.1,2.6 0 0 0 582.4,872.6" fill="none" stroke="#222" stroke-width="1.62" />
<path d="M569,873.7 A7.3,2.6 0 0 0 583.6,873.7" fill="none" stroke="#222" stroke-width="2.02" />
<line x1="570.1" y1="831.8" x2="570.1" y2="874.3" stroke="#222" stroke-width="1.23" />
<line x1="582.5" y1="831.8" x2="582.5" y2="874.3" stroke="#222" stroke-width="1.23" />
<ellipse cx="576.3" cy="831.8" rx="7.3" ry="3.6" fill="#fff" stroke="#222" stroke-width="1.46" />
<ellipse cx="576.3" cy="832.2" rx="4.9" ry="2.2" fill="none" stroke="#222" stroke-width="1.23" />
<path d="M618.2,933.6 A11.8,5.3 0 0 1 641.8,933.6 L641.8,943.4 A11.8,5.3 0 0 1 618.2,943.4 Z" fill="#fff" stroke="#222" stroke-width="1.57" />
<ellipse cx="630" cy="933.6" rx="11.8" ry="5.3" fill="#fff" stroke="#222" stroke-width="1.57" />
<path d="M618.5,934.5 A11.5,5.3 0 0 0 641.5,934.5" fill="none" stroke="#222" stroke-width="1.01" />
<path d="M622.7,828.1 L622.7,932.3 A7.3,4.3 0 0 0 637.3,932.3 L637.3,828.1 Z" fill="#fff" stroke="#222" stroke-width="1.46" />
<path d="M623.9,833.3 A6.1,2.6 0 0 0 636.1,833.3" fill="none" stroke="#222" stroke-width="1.62" />
<path d="M623.9,837.75 A6.1,2.6 0 0 0 636.1,837.75" fill="none" stroke="#222" stroke-width="1.62" />
<path d="M623.9,842.2 A6.1,2.6 0 0 0 636.1,842.2" fill="none" stroke="#222" stroke-width="1.62" />
<path d="M623.9,846.65 A6.1,2.6 0 0 0 636.1,846.65" fill="none" stroke="#222" stroke-width="1.62" />
<path d="M623.9,851.1 A6.1,2.6 0 0 0 636.1,851.1" fill="none" stroke="#222" stroke-width="1.62" />
<path d="M623.9,855.55 A6.1,2.6 0 0 0 636.1,855.55" fill="none" stroke="#222" stroke-width="1.62" />
<path d="M623.9,860 A6.1,2.6 0 0 0 636.1,860" fill="none" stroke="#222" stroke-width="1.62" />
<path d="M623.9,864.45 A6.1,2.6 0 0 0 636.1,864.45" fill="none" stroke="#222" stroke-width="1.62" />
<path d="M622.7,869.1 A7.3,2.6 0 0 0 637.3,869.1" fill="none" stroke="#222" stroke-width="2.02" />
<line x1="623.8" y1="828.1" x2="623.8" y2="869.7" stroke="#222" stroke-width="1.23" />
<line x1="636.2" y1="828.1" x2="636.2" y2="869.7" stroke="#222" stroke-width="1.23" />
<ellipse cx="630" cy="828.1" rx="7.3" ry="3.6" fill="#fff" stroke="#222" stroke-width="1.46" />
<ellipse cx="630" cy="828.5" rx="4.9" ry="2.2" fill="none" stroke="#222" stroke-width="1.23" />
<path d="M582.2,996.3 A11.8,5.3 0 0 1 605.8,996.3 L605.8,1006.5 A11.8,5.3 0 0 1 582.2,1006.5 Z" fill="#fff" stroke="#222" stroke-width="1.57" />
<ellipse cx="594" cy="996.3" rx="11.8" ry="5.3" fill="#fff" stroke="#222" stroke-width="1.57" />
<path d="M582.5,997.2 A11.5,5.3 0 0 0 605.5,997.2" fill="none" stroke="#222" stroke-width="1.01" />
<path d="M586.7,876.3 L586.7,995 A7.3,4.3 0 0 0 601.3,995 L601.3,876.3 Z" fill="#fff" stroke="#222" stroke-width="1.46" />
<path d="M587.9,881.5 A6.1,2.6 0 0 0 600.1,881.5" fill="none" stroke="#222" stroke-width="1.62" />
<path d="M587.9,885.95 A6.1,2.6 0 0 0 600.1,885.95" fill="none" stroke="#222" stroke-width="1.62" />
<path d="M587.9,890.4 A6.1,2.6 0 0 0 600.1,890.4" fill="none" stroke="#222" stroke-width="1.62" />
<path d="M587.9,894.85 A6.1,2.6 0 0 0 600.1,894.85" fill="none" stroke="#222" stroke-width="1.62" />
<path d="M587.9,899.3 A6.1,2.6 0 0 0 600.1,899.3" fill="none" stroke="#222" stroke-width="1.62" />
<path d="M587.9,903.75 A6.1,2.6 0 0 0 600.1,903.75" fill="none" stroke="#222" stroke-width="1.62" />
<path d="M587.9,908.2 A6.1,2.6 0 0 0 600.1,908.2" fill="none" stroke="#222" stroke-width="1.62" />
<path d="M587.9,912.65 A6.1,2.6 0 0 0 600.1,912.65" fill="none" stroke="#222" stroke-width="1.62" />
<path d="M587.9,917.1 A6.1,2.6 0 0 0 600.1,917.1" fill="none" stroke="#222" stroke-width="1.62" />
<path d="M586.7,918.2 A7.3,2.6 0 0 0 601.3,918.2" fill="none" stroke="#222" stroke-width="2.02" />
<line x1="587.8" y1="876.3" x2="587.8" y2="918.8" stroke="#222" stroke-width="1.23" />
<line x1="600.2" y1="876.3" x2="600.2" y2="918.8" stroke="#222" stroke-width="1.23" />
<ellipse cx="594" cy="876.3" rx="7.3" ry="3.6" fill="#fff" stroke="#222" stroke-width="1.46" />
<ellipse cx="594" cy="876.7" rx="4.9" ry="2.2" fill="none" stroke="#222" stroke-width="1.23" />
<path d="M635.9,981.7 A11.8,5.3 0 0 1 659.5,981.7 L659.5,991.7 A11.8,5.3 0 0 1 635.9,991.7 Z" fill="#fff" stroke="#222" stroke-width="1.57" />
<ellipse cx="647.7" cy="981.7" rx="11.8" ry="5.3" fill="#fff" stroke="#222" stroke-width="1.57" />
<path d="M636.2,982.6 A11.5,5.3 0 0 0 659.2,982.6" fill="none" stroke="#222" stroke-width="1.01" />
<path d="M640.4,877.2 L640.4,980.4 A7.3,4.3 0 0 0 655,980.4 L655,877.2 Z" fill="#fff" stroke="#222" stroke-width="1.46" />
<path d="M641.6,882.4 A6.1,2.6 0 0 0 653.8,882.4" fill="none" stroke="#222" stroke-width="1.62" />
<path d="M641.6,886.85 A6.1,2.6 0 0 0 653.8,886.85" fill="none" stroke="#222" stroke-width="1.62" />
<path d="M641.6,891.3 A6.1,2.6 0 0 0 653.8,891.3" fill="none" stroke="#222" stroke-width="1.62" />
<path d="M641.6,895.75 A6.1,2.6 0 0 0 653.8,895.75" fill="none" stroke="#222" stroke-width="1.62" />
<path d="M641.6,900.2 A6.1,2.6 0 0 0 653.8,900.2" fill="none" stroke="#222" stroke-width="1.62" />
<path d="M641.6,904.65 A6.1,2.6 0 0 0 653.8,904.65" fill="none" stroke="#222" stroke-width="1.62" />
<path d="M641.6,909.1 A6.1,2.6 0 0 0 653.8,909.1" fill="none" stroke="#222" stroke-width="1.62" />
<path d="M641.6,913.55 A6.1,2.6 0 0 0 653.8,913.55" fill="none" stroke="#222" stroke-width="1.62" />
<path d="M640.4,918.2 A7.3,2.6 0 0 0 655,918.2" fill="none" stroke="#222" stroke-width="2.02" />
<line x1="641.5" y1="877.2" x2="641.5" y2="918.8" stroke="#222" stroke-width="1.23" />
<line x1="653.9" y1="877.2" x2="653.9" y2="918.8" stroke="#222" stroke-width="1.23" />
<ellipse cx="647.7" cy="877.2" rx="7.3" ry="3.6" fill="#fff" stroke="#222" stroke-width="1.46" />
<ellipse cx="647.7" cy="877.6" rx="4.9" ry="2.2" fill="none" stroke="#222" stroke-width="1.23" />
<line x1="486.1" y1="952.2" x2="574.7" y2="989.6" stroke="#222" stroke-width="1.34" />
<text x="456.8" y="941.5" font-size="18" text-anchor="start" >20</text>
<text x="497.2" y="928.9" font-size="18" text-anchor="start" >35 Nm</text>
<line x1="488.6" y1="933.9" x2="559.9" y2="933.9" stroke="#222" stroke-width="1.34" />
<line x1="645.3" y1="856.6" x2="738" y2="923.1" stroke="#222" stroke-width="1.34" />
<text x="674.2" y="940.3" font-size="18" text-anchor="start" >35 Nm</text>
<line x1="663.5" y1="943.6" x2="735.7" y2="943.6" stroke="#222" stroke-width="1.34" />
<text x="740.3" y="940.3" font-size="18" text-anchor="start" >21</text>
<path d="M730.5,716.7 L951.4,716.7 L951.4,804.6 A14.2,14.2 0 0 1 937.2,818.8 L744.7,818.8 A14.2,14.2 0 0 1 730.5,804.6 Z" fill="#fff" stroke="#111" stroke-width="1.68" />
<line x1="730.5" y1="723.4" x2="951.4" y2="723.4" stroke="#111" stroke-width="1.57" />
<line x1="730.5" y1="725.4" x2="951.4" y2="725.4" stroke="#111" stroke-width="1.12" />
<line x1="745.4" y1="716.7" x2="745.4" y2="725.4" stroke="#111" stroke-width="1.57" />
<line x1="765.9" y1="716.7" x2="765.9" y2="725.4" stroke="#111" stroke-width="1.57" />
<line x1="832.4" y1="716.7" x2="832.4" y2="725.4" stroke="#111" stroke-width="1.57" />
<line x1="853.1" y1="716.7" x2="853.1" y2="725.4" stroke="#111" stroke-width="1.57" />
<line x1="915.3" y1="716.7" x2="915.3" y2="725.4" stroke="#111" stroke-width="1.57" />
<line x1="935.7" y1="716.7" x2="935.7" y2="725.4" stroke="#111" stroke-width="1.57" />
<line x1="755.7" y1="711" x2="755.7" y2="729" stroke="#111" stroke-width="1.68" />
<line x1="842.5" y1="711" x2="842.5" y2="729" stroke="#111" stroke-width="1.68" />
<line x1="925.9" y1="711" x2="925.9" y2="729" stroke="#111" stroke-width="1.68" />
<circle cx="755.7" cy="798.5" r="10.3" fill="none" stroke="#111" stroke-width="1.5"/>
<line x1="738.2" y1="798.5" x2="773.2" y2="798.5" stroke="#111" stroke-width="1.57" />
<line x1="755.7" y1="781" x2="755.7" y2="815.5" stroke="#111" stroke-width="1.57" />
<circle cx="925.9" cy="798.5" r="10.3" fill="none" stroke="#111" stroke-width="1.5"/>
<line x1="908.4" y1="798.5" x2="943.4" y2="798.5" stroke="#111" stroke-width="1.57" />
<line x1="925.9" y1="781" x2="925.9" y2="815.5" stroke="#111" stroke-width="1.57" />
<text x="782.2" y="782.4" font-size="14.2" text-anchor="start" >d 7 mm</text>
<line x1="782.8" y1="784.6" x2="826.6" y2="784.6" stroke="#222" stroke-width="1.23" />
<line x1="768.2" y1="792.6" x2="782.8" y2="784.6" stroke="#222" stroke-width="1.23" />
<line x1="951.4" y1="716.7" x2="997.9" y2="716.7" stroke="#111" stroke-width="1.46" />
<line x1="955.1" y1="798.5" x2="973.5" y2="798.5" stroke="#111" stroke-width="1.46" />
<line x1="943" y1="818.8" x2="999" y2="818.8" stroke="#111" stroke-width="1.46" />
<line x1="968.1" y1="716.7" x2="968.1" y2="798.5" stroke="#111" stroke-width="1.46" />
<path d="M968.1,716.7 L965.6,726.7 L970.6,726.7 Z" fill="#111"/>
<path d="M968.1,798.5 L965.6,788.5 L970.6,788.5 Z" fill="#111"/>
<line x1="994.6" y1="716.7" x2="994.6" y2="818.8" stroke="#111" stroke-width="1.46" />
<path d="M994.6,716.7 L992.1,726.7 L997.1,726.7 Z" fill="#111"/>
<path d="M994.6,818.8 L992.1,808.8 L997.1,808.8 Z" fill="#111"/>
<text x="0" y="0" font-size="14.2" text-anchor="middle" transform="translate(970.8,762.7) rotate(90)">24 mm</text>
<text x="0" y="0" font-size="14.2" text-anchor="middle" transform="translate(997.6,765.4) rotate(90)">30 mm</text>
<line x1="730.2" y1="815" x2="730.2" y2="869.4" stroke="#111" stroke-width="1.46" />
<line x1="951.3" y1="815.6" x2="951.3" y2="869.4" stroke="#111" stroke-width="1.46" />
<line x1="755.7" y1="821.9" x2="755.7" y2="849.9" stroke="#111" stroke-width="1.46" />
<line x1="925.9" y1="821.9" x2="925.9" y2="849.9" stroke="#111" stroke-width="1.46" />
<line x1="730.2" y1="865.2" x2="951.3" y2="865.2" stroke="#111" stroke-width="1.46" />
<path d="M730.2,865.2 L740.2,862.7 L740.2,867.7 Z" fill="#111"/>
<path d="M951.3,865.2 L941.3,862.7 L941.3,867.7 Z" fill="#111"/>
<line x1="755.7" y1="844.3" x2="925.9" y2="844.3" stroke="#111" stroke-width="1.46" />
<path d="M755.7,844.3 L765.7,841.8 L765.7,846.8 Z" fill="#111"/>
<path d="M925.9,844.3 L915.9,841.8 L915.9,846.8 Z" fill="#111"/>
<text x="840" y="840.2" font-size="14.2" text-anchor="middle" >50 mm</text>
<text x="842.3" y="862.1" font-size="14.2" text-anchor="middle" >65 mm</text>
</svg>
</body></html>
